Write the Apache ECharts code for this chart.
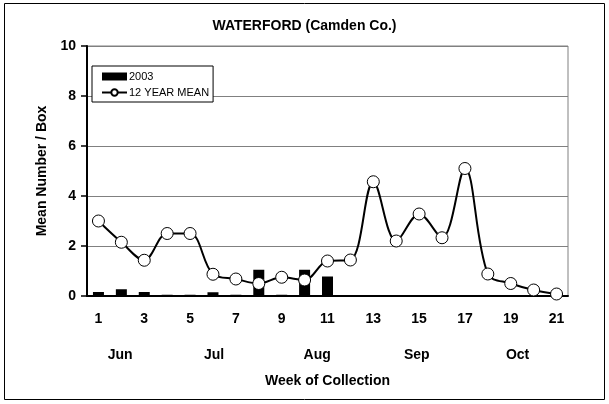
<!DOCTYPE html>
<html lang="en">
  <head>
    <meta charset="UTF-8" />
    <title>WATERFORD</title>
    <style>
      html, body { margin: 0; padding: 0; background: #fff; }
      #main { width: 609px; height: 404px; }
    </style>
  </head>
  <body>
    <div id="main"></div>
    <script src="https://cdn.jsdelivr.net/npm/echarts@6/dist/echarts.min.js"></script>
    <script>
      // weeks of collection
      const weeks = ["1","2","3","4","5","6","7","8","9","10","11","12","13","14","15","16","17","18","19","20","21"];
      // 2003 bars
      const y2003 = [0.16, 0.27, 0.16, 0.05, 0.05, 0.15, 0.05, 1.05, 0.05, 1.05, 0.78, 0, 0, 0, 0, 0, 0, 0, 0, 0, 0];
      // 12 year mean
      const mean12 = [3.0, 2.15, 1.43, 2.5, 2.5, 0.87, 0.68, 0.5, 0.75, 0.64, 1.4, 1.44, 4.57, 2.2, 3.28, 2.33, 5.1, 0.88, 0.5, 0.24, 0.08];
      // month labels and the week they sit under
      const months = ["Jun", "Jul", "Aug", "Sep", "Oct"];
      const monthWeeks = [1.95, 6.05, 10.55, 14.9, 19.3];

      const font = "Liberation Sans, Arial, sans-serif";
      const chart = echarts.init(document.getElementById("main"));

      chart.setOption({
        animation: false,
        title: {
          text: "WATERFORD (Camden Co.)",
          left: "center",
          top: 14,
          textStyle: { fontFamily: font, fontSize: 14, fontWeight: "bold", color: "#000" },
        },
        legend: {
          orient: "vertical",
          left: 92,
          top: 66,
          padding: [5, 4, 4, 9],
          itemGap: 5,
          itemWidth: 25,
          itemHeight: 8,
          borderColor: "#000",
          borderWidth: 1,
          backgroundColor: "#fff",
          textStyle: { fontFamily: font, fontSize: 11, color: "#000", padding: [0, 0, 0, -3] },
          data: [
            { name: "2003", icon: "rect" },
            { name: "12 YEAR MEAN" },
          ],
        },
        graphic: [
          {
            type: "rect",
            shape: { x: 4.5, y: 3.5, width: 600, height: 396 },
            style: { fill: "none", stroke: "#000", lineWidth: 1 },
            z: -1,
          },
          {
            type: "rect",
            shape: { x: 87, y: 46, width: 481, height: 250 },
            style: { fill: "none", stroke: "#808080", lineWidth: 1 },
            z: -1,
          },
        ],
        grid: { left: 87, right: 41, top: 46, bottom: 108 },
        xAxis: [
          {
            type: "category",
            data: weeks,
            boundaryGap: true,
            axisLine: { lineStyle: { color: "#000", width: 2 } },
            axisTick: { interval: 0, length: 5, lineStyle: { color: "#000", width: 1.5 } },
            axisLabel: {
              interval: 1,
              margin: 16,
              fontFamily: font,
              fontSize: 14,
              fontWeight: "bold",
              color: "#000",
            },
            name: "Week of Collection",
            nameLocation: "middle",
            nameGap: 78,
            nameTextStyle: { fontFamily: font, fontSize: 14, fontWeight: "bold", color: "#000" },
          },
          {
            type: "value",
            position: "bottom",
            min: 0.5,
            max: 21.5,
            axisLine: { show: false },
            axisTick: { show: false },
            splitLine: { show: false },
            axisLabel: {
              customValues: monthWeeks,
              margin: 52,
              formatter: (v) => months[monthWeeks.indexOf(v)] || "",
              fontFamily: font,
              fontSize: 14,
              fontWeight: "bold",
              color: "#000",
            },
          },
        ],
        yAxis: {
          type: "value",
          min: 0,
          max: 10,
          interval: 2,
          axisLine: { show: true, lineStyle: { color: "#000", width: 2 } },
          axisTick: { show: true, length: 6, lineStyle: { color: "#000", width: 1.5 } },
          splitLine: { lineStyle: { color: "#808080", width: 1 } },
          axisLabel: { margin: 11, fontFamily: font, fontSize: 14, fontWeight: "bold", color: "#000" },
          name: "Mean Number / Box",
          nameLocation: "middle",
          nameGap: 37,
          nameTextStyle: { fontFamily: font, fontSize: 14, fontWeight: "bold", color: "#000" },
        },
        series: [
          {
            name: "2003",
            type: "bar",
            data: y2003,
            barWidth: 11,
            itemStyle: { color: "#000" },
          },
          {
            name: "12 YEAR MEAN",
            type: "line",
            data: mean12,
            smooth: 0.35,
            symbol: "circle",
            symbolSize: 12,
            lineStyle: { color: "#000", width: 2 },
            itemStyle: { color: "#fff", borderColor: "#000", borderWidth: 1 },
            z: 3,
          },
        ],
      });
    </script>
  </body>
</html>
